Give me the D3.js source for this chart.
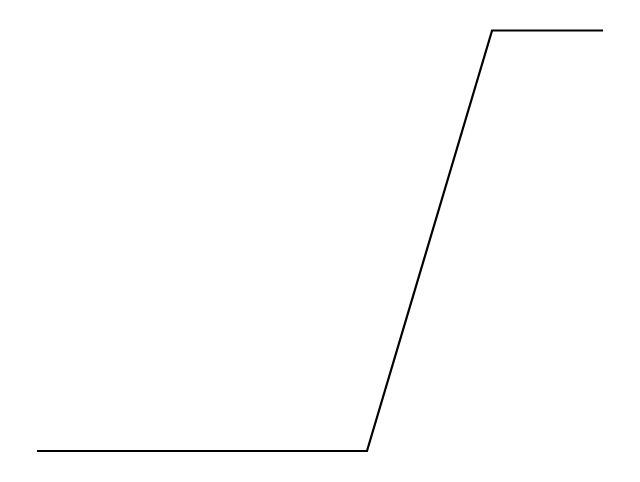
<!DOCTYPE html>
<html>
<head>
<meta charset="utf-8">
<script src="https://cdn.jsdelivr.net/npm/d3@7"></script>
<style>
html,body{margin:0;padding:0;background:#fff;}
svg{display:block;}
</style>
</head>
<body>
<script>
const xValues = [0, 58.3, 80.4, 100];
const yValues = [0, 0, 1, 1];

const width = 640, height = 482;
const svg = d3.select("body").append("svg")
  .attr("width", width).attr("height", height);

const x = d3.scaleLinear().domain([0, 100]).range([37, 603]);
const y = d3.scaleLinear().domain([0, 1]).range([451, 30.5]);

const data = xValues.map((v, i) => ({x: v, y: yValues[i]}));

svg.append("path")
  .datum(data)
  .attr("fill", "none")
  .attr("stroke", "#000")
  .attr("stroke-width", 2.2)
  .attr("d", d3.line().x(d => x(d.x)).y(d => y(d.y)));
</script>
</body>
</html>
